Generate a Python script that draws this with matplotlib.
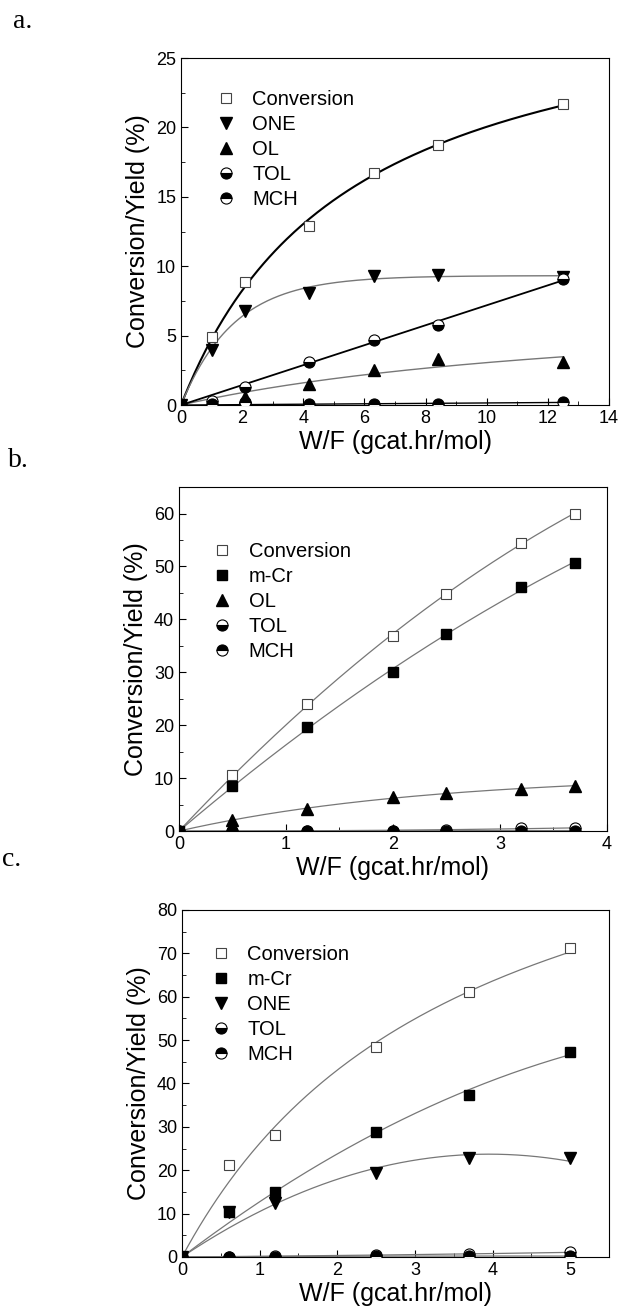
import numpy as np
import matplotlib
matplotlib.use("Agg")
import matplotlib.pyplot as plt
from matplotlib.ticker import MultipleLocator

plt.rcParams['font.family'] = ['Liberation Sans', 'DejaVu Sans']

# panel a
xa = [0, 1.0, 2.1, 4.2, 6.3, 8.4, 12.5]
conv_a = [0, 4.9, 8.9, 12.9, 16.7, 18.7, 21.7]
one_a = [0, 4.0, 6.8, 8.1, 9.3, 9.4, 9.2]
ol_a = [0, 0.1, 0.6, 1.5, 2.5, 3.3, 3.1]
tol_a = [0, 0.3, 1.3, 3.1, 4.7, 5.8, 9.1]
mch_a = [0, 0.1, 0.2, 0.05, 0.05, 0.1, 0.2]

# panel b
xb = [0, 0.5, 1.2, 2.0, 2.5, 3.2, 3.7]
conv_b = [0, 10.5, 24.0, 36.9, 44.8, 54.5, 60.0]
mcr_b = [0, 8.5, 19.6, 30.1, 37.2, 46.1, 50.6]
ol_b = [0, 2.0, 4.2, 6.4, 7.2, 7.9, 8.6]
tol_b = [0, 0.1, 0.1, 0.1, 0.2, 0.5, 0.6]
mch_b = [0, 0.05, 0.05, 0.05, 0.05, 0.1, 0.1]

# panel c
xc = [0, 0.6, 1.2, 2.5, 3.7, 5.0]
conv_c = [0, 21.3, 28.1, 48.3, 61.0, 71.2]
mcr_c = [0, 10.3, 14.9, 28.7, 37.3, 47.3]
one_c = [0, 10.4, 12.5, 19.3, 22.8, 22.7]
tol_c = [0, 0.1, 0.2, 0.5, 0.6, 1.1]
mch_c = [0, 0.05, 0.1, 0.2, 0.2, 0.2]

styles = {
    'Conversion': dict(marker='s', mfc='white', mec='#444444', ms=7, mew=0.8),
    'm-Cr': dict(marker='s', mfc='black', mec='black', ms=7),
    'ONE': dict(marker='v', mfc='black', mec='black', ms=9),
    'OL': dict(marker='^', mfc='black', mec='black', ms=9),
    'TOL': dict(marker='o', fillstyle='bottom', mfc='black', markerfacecoloralt='white', mec='black', ms=8, mew=0.8),
    'MCH': dict(marker='o', fillstyle='top', mfc='black', markerfacecoloralt='white', mec='black', ms=8, mew=0.8),
}


def fit_curve(x, y, kind, xs):
    x = np.asarray(x, float)
    y = np.asarray(y, float)
    if kind.startswith('poly'):
        n = int(kind[-1])
        A = np.column_stack([x**k for k in range(1, n + 1)])
        c = np.linalg.lstsq(A, y, rcond=None)[0]
        return sum(c[k - 1] * xs**k for k in range(1, n + 1))
    best = None
    for p in np.linspace(0.01, 3, 600):
        f = 1 - np.exp(-p * x) if kind == 'sat' else x / (1 + p * x)
        a = (f @ y) / (f @ f)
        err = ((a * f - y) ** 2).sum()
        if best is None or err < best[0]:
            best = (err, a, p)
    _, a, p = best
    return a * (1 - np.exp(-p * xs)) if kind == 'sat' else a * xs / (1 + p * xs)


fig = plt.figure(figsize=(6.21, 13.1), dpi=100)

panels = [
    ('a.', (0.021, 0.9786), [0.2915, 0.6908, 0.6892, 0.2649], xa, (14, 2, 1), (25, 5, 2.5), 12.5, [
        ('Conversion', conv_a, 'rat', 'black', 1.5),
        ('ONE', one_a, 'sat', '#777777', 1.0),
        ('OL', ol_a, 'rat', '#777777', 1.0),
        ('TOL', tol_a, 'poly1', 'black', 1.3),
        ('MCH', mch_a, 'poly1', 'black', 1.0),
    ], (0.063, 0.932)),
    ('b.', (0.013, 0.6435), [0.2882, 0.3656, 0.6892, 0.2626], xb, (4, 1, 0.5), (65, 10, 5), 3.7, [
        ('Conversion', conv_b, 'poly2', '#777777', 0.9),
        ('m-Cr', mcr_b, 'poly2', '#777777', 0.9),
        ('OL', ol_b, 'sat', '#777777', 0.9),
        ('TOL', tol_b, 'poly2', '#777777', 0.9),
        ('MCH', mch_b, 'poly2', '#777777', 0.9),
    ], (0.059, 0.865)),
    ('c.', (0.003, 0.3389), [0.2931, 0.0405, 0.6876, 0.2649], xc, (5.5, 1, 0.5), (80, 10, 5), 5.0, [
        ('Conversion', conv_c, 'rat', '#777777', 0.9),
        ('m-Cr', mcr_c, 'poly2', '#777777', 0.9),
        ('ONE', one_c, 'poly2', '#777777', 0.9),
        ('TOL', tol_c, 'poly2', '#777777', 0.9),
        ('MCH', mch_c, 'poly2', '#777777', 0.9),
    ], (0.049, 0.923)),
]

for tag, tagpos, rect, x, (xmax, xmaj, xmin), (ymax, ymaj, ymin), xend, series, legpos in panels:
    ax = fig.add_axes(rect)
    xs = np.linspace(0, xend, 200)
    handles = []
    for name, y, kind, lc, lw in series:
        ax.plot(xs, fit_curve(x, y, kind, xs), color=lc, lw=lw, zorder=2)
    for name, y, kind, lc, lw in series:
        h, = ax.plot(x, y, ls='none', label=name, zorder=3, **styles[name])
        handles.append(h)
    ax.set_xlim(0, xmax)
    ax.set_ylim(0, ymax)
    ax.xaxis.set_major_locator(MultipleLocator(xmaj))
    ax.xaxis.set_minor_locator(MultipleLocator(xmin))
    ax.yaxis.set_major_locator(MultipleLocator(ymaj))
    ax.yaxis.set_minor_locator(MultipleLocator(ymin))
    ax.tick_params(which='both', direction='in', labelsize=13)
    ax.tick_params(which='major', length=5)
    ax.tick_params(which='minor', length=3)
    ax.set_xlabel('W/F (gcat.hr/mol)', fontsize=18, labelpad=2)
    ax.set_ylabel('Conversion/Yield (%)', fontsize=18, labelpad=4)
    ax.legend(handles=handles, loc='upper left', bbox_to_anchor=legpos, frameon=False,
              fontsize=14.5, numpoints=1, handlelength=1.0, handletextpad=0.8,
              labelspacing=0.3, borderaxespad=0)
    fig.text(tagpos[0], tagpos[1], tag, family='Liberation Serif',
             fontsize=20, ha='left', va='baseline')

fig.savefig('out.png', dpi=100)
